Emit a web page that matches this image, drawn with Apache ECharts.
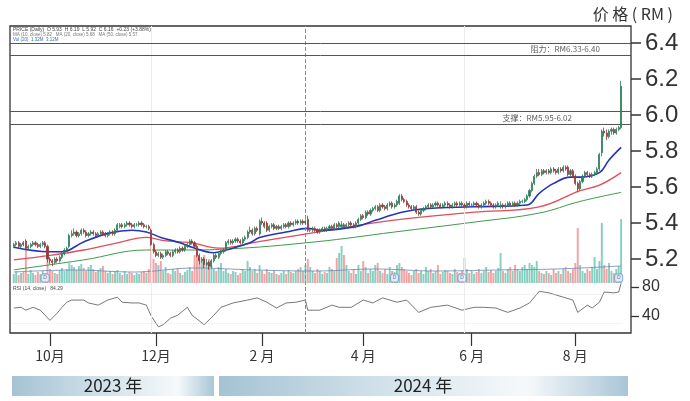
<!DOCTYPE html>
<html><head><meta charset="utf-8">
<script src="https://cdn.jsdelivr.net/npm/echarts@6/dist/echarts.min.js"></script>
<style>html,body{margin:0;padding:0;background:#fff}#c{width:690px;height:401px}</style>
</head><body><div id="c"></div>
<script>
// ---- categories: trading days (weekdays) 2023-09-11 .. 2024-08-28 ----
const dates = [];
(function(){ const d = new Date(Date.UTC(2023,8,11)); while (dates.length < 253) { const w = d.getUTCDay(); if (w !== 0 && w !== 6) dates.push(d.toISOString().slice(0,10)); d.setUTCDate(d.getUTCDate()+1); } })();

const opens = [5.27,5.28,5.29,5.27,5.29,5.30,5.26,5.27,5.28,5.29,
 5.28,5.27,5.28,5.29,5.27,5.20,5.19,5.18,5.20,5.19,
 5.21,5.23,5.25,5.27,5.33,5.34,5.35,5.33,5.34,5.36,
 5.35,5.33,5.34,5.35,5.34,5.33,5.34,5.35,5.34,5.33,
 5.34,5.35,5.34,5.36,5.38,5.39,5.38,5.39,5.40,5.39,
 5.38,5.39,5.39,5.40,5.39,5.38,5.38,5.36,5.28,5.24,
 5.22,5.23,5.21,5.22,5.24,5.23,5.22,5.24,5.25,5.24,
 5.26,5.25,5.27,5.28,5.30,5.29,5.27,5.22,5.19,5.20,
 5.17,5.18,5.16,5.19,5.22,5.21,5.23,5.24,5.25,5.29,
 5.30,5.29,5.30,5.31,5.30,5.29,5.31,5.32,5.35,5.36,
 5.34,5.37,5.34,5.41,5.40,5.40,5.36,5.38,5.39,5.37,
 5.38,5.37,5.38,5.39,5.38,5.40,5.39,5.40,5.41,5.40,
 5.41,5.40,5.42,5.36,5.36,5.37,5.36,5.35,5.36,5.37,
 5.36,5.37,5.38,5.37,5.39,5.38,5.38,5.39,5.38,5.39,
 5.40,5.39,5.38,5.40,5.42,5.44,5.43,5.46,5.45,5.47,
 5.48,5.49,5.47,5.50,5.49,5.48,5.50,5.51,5.49,5.50,
 5.51,5.55,5.53,5.52,5.50,5.49,5.48,5.49,5.46,5.45,
 5.47,5.48,5.49,5.50,5.49,5.50,5.51,5.50,5.49,5.50,
 5.51,5.50,5.49,5.50,5.51,5.50,5.51,5.50,5.49,5.51,
 5.50,5.50,5.51,5.50,5.49,5.50,5.51,5.52,5.51,5.50,
 5.49,5.50,5.49,5.50,5.49,5.50,5.51,5.50,5.51,5.50,
 5.51,5.52,5.52,5.53,5.55,5.58,5.62,5.66,5.68,5.67,
 5.69,5.68,5.69,5.68,5.70,5.69,5.68,5.70,5.69,5.71,
 5.71,5.67,5.69,5.66,5.62,5.59,5.63,5.66,5.68,5.67,
 5.66,5.67,5.68,5.70,5.79,5.91,5.90,5.88,5.91,5.92,
 5.90,5.92,5.93];
const closes = [5.28,5.29,5.27,5.28,5.28,5.26,5.27,5.28,5.29,5.28,
 5.27,5.28,5.29,5.27,5.20,5.19,5.18,5.20,5.19,5.21,
 5.23,5.25,5.26,5.33,5.34,5.35,5.33,5.34,5.36,5.35,
 5.33,5.34,5.35,5.34,5.33,5.34,5.35,5.34,5.33,5.34,
 5.35,5.34,5.36,5.39,5.39,5.38,5.39,5.40,5.39,5.38,
 5.39,5.39,5.40,5.39,5.38,5.38,5.37,5.28,5.24,5.22,
 5.23,5.21,5.22,5.24,5.23,5.22,5.24,5.25,5.24,5.26,
 5.25,5.27,5.28,5.30,5.29,5.27,5.22,5.19,5.20,5.17,
 5.18,5.16,5.19,5.22,5.21,5.23,5.24,5.25,5.29,5.30,
 5.29,5.30,5.31,5.30,5.29,5.31,5.32,5.35,5.36,5.34,
 5.37,5.36,5.41,5.40,5.38,5.36,5.38,5.39,5.37,5.38,
 5.37,5.38,5.39,5.38,5.40,5.39,5.40,5.41,5.40,5.41,
 5.40,5.41,5.36,5.36,5.37,5.36,5.35,5.36,5.37,5.36,
 5.37,5.38,5.37,5.39,5.38,5.40,5.39,5.38,5.39,5.40,
 5.39,5.38,5.40,5.42,5.44,5.43,5.46,5.45,5.47,5.48,
 5.49,5.47,5.50,5.49,5.48,5.50,5.51,5.49,5.50,5.52,
 5.55,5.53,5.52,5.50,5.49,5.48,5.49,5.46,5.45,5.47,
 5.48,5.49,5.50,5.49,5.50,5.51,5.50,5.49,5.50,5.51,
 5.50,5.49,5.50,5.51,5.50,5.51,5.50,5.49,5.51,5.50,
 5.50,5.51,5.50,5.49,5.50,5.51,5.52,5.51,5.50,5.49,
 5.50,5.51,5.50,5.49,5.50,5.51,5.50,5.51,5.50,5.51,
 5.52,5.52,5.53,5.55,5.58,5.62,5.66,5.68,5.67,5.69,
 5.68,5.69,5.68,5.70,5.69,5.68,5.70,5.69,5.71,5.70,
 5.67,5.69,5.66,5.62,5.59,5.63,5.66,5.68,5.67,5.66,
 5.67,5.68,5.70,5.78,5.91,5.90,5.88,5.91,5.92,5.90,
 5.92,5.93,6.16];
const highs = [5.29,5.30,5.30,5.29,5.30,5.31,5.28,5.29,5.30,5.30,
 5.29,5.29,5.30,5.30,5.28,5.21,5.20,5.21,5.21,5.22,
 5.24,5.26,5.27,5.34,5.36,5.37,5.36,5.35,5.37,5.37,
 5.36,5.35,5.36,5.36,5.35,5.35,5.36,5.36,5.35,5.35,
 5.36,5.36,5.37,5.40,5.40,5.40,5.40,5.41,5.41,5.40,
 5.40,5.40,5.41,5.41,5.40,5.39,5.39,5.37,5.29,5.25,
 5.24,5.24,5.23,5.25,5.25,5.24,5.25,5.26,5.26,5.27,
 5.27,5.28,5.29,5.31,5.31,5.30,5.28,5.23,5.21,5.21,
 5.20,5.19,5.20,5.23,5.23,5.24,5.25,5.26,5.30,5.31,
 5.31,5.31,5.32,5.32,5.31,5.32,5.33,5.36,5.38,5.37,
 5.38,5.38,5.42,5.43,5.41,5.41,5.39,5.40,5.40,5.39,
 5.39,5.39,5.40,5.40,5.41,5.41,5.41,5.42,5.42,5.42,
 5.42,5.42,5.44,5.37,5.38,5.38,5.37,5.37,5.38,5.38,
 5.38,5.39,5.39,5.40,5.40,5.41,5.41,5.40,5.40,5.41,
 5.41,5.40,5.41,5.43,5.45,5.45,5.47,5.47,5.48,5.49,
 5.50,5.50,5.51,5.51,5.50,5.51,5.52,5.52,5.51,5.53,
 5.56,5.56,5.54,5.53,5.51,5.50,5.50,5.50,5.47,5.48,
 5.49,5.50,5.51,5.51,5.51,5.52,5.52,5.51,5.51,5.52,
 5.52,5.51,5.51,5.52,5.52,5.52,5.52,5.51,5.52,5.52,
 5.51,5.52,5.52,5.51,5.51,5.52,5.53,5.53,5.52,5.51,
 5.51,5.52,5.52,5.51,5.51,5.52,5.52,5.52,5.52,5.52,
 5.53,5.53,5.54,5.56,5.59,5.63,5.67,5.70,5.70,5.70,
 5.70,5.70,5.70,5.71,5.71,5.70,5.71,5.71,5.72,5.72,
 5.72,5.70,5.70,5.67,5.63,5.64,5.67,5.69,5.69,5.68,
 5.68,5.69,5.71,5.79,5.92,5.93,5.92,5.92,5.93,5.93,
 5.93,5.94,6.19];
const lows = [5.26,5.27,5.26,5.26,5.27,5.25,5.25,5.26,5.27,5.27,
 5.26,5.26,5.27,5.26,5.18,5.17,5.16,5.17,5.18,5.18,
 5.20,5.22,5.24,5.26,5.32,5.33,5.32,5.32,5.33,5.34,
 5.32,5.32,5.33,5.33,5.32,5.32,5.33,5.33,5.32,5.32,
 5.33,5.33,5.33,5.35,5.37,5.37,5.37,5.38,5.38,5.37,
 5.37,5.38,5.38,5.38,5.37,5.37,5.36,5.27,5.23,5.21,
 5.21,5.20,5.20,5.21,5.22,5.21,5.21,5.23,5.23,5.23,
 5.24,5.24,5.26,5.27,5.28,5.26,5.21,5.17,5.18,5.15,
 5.16,5.14,5.15,5.18,5.20,5.20,5.22,5.23,5.24,5.28,
 5.28,5.28,5.29,5.29,5.28,5.28,5.30,5.31,5.34,5.33,
 5.33,5.35,5.33,5.39,5.37,5.35,5.35,5.37,5.36,5.36,
 5.36,5.36,5.37,5.37,5.37,5.38,5.38,5.39,5.39,5.39,
 5.39,5.39,5.35,5.35,5.35,5.35,5.34,5.34,5.35,5.35,
 5.35,5.36,5.36,5.36,5.37,5.37,5.37,5.37,5.37,5.38,
 5.38,5.37,5.37,5.39,5.41,5.42,5.42,5.44,5.44,5.46,
 5.47,5.46,5.46,5.48,5.47,5.47,5.49,5.48,5.48,5.49,
 5.50,5.52,5.51,5.49,5.48,5.47,5.47,5.45,5.44,5.44,
 5.46,5.47,5.48,5.48,5.48,5.49,5.49,5.48,5.48,5.49,
 5.49,5.48,5.48,5.49,5.49,5.49,5.49,5.48,5.48,5.49,
 5.49,5.49,5.49,5.48,5.48,5.49,5.50,5.50,5.49,5.48,
 5.48,5.49,5.48,5.48,5.48,5.49,5.49,5.49,5.49,5.49,
 5.50,5.51,5.51,5.52,5.54,5.57,5.61,5.65,5.66,5.66,
 5.67,5.67,5.67,5.67,5.68,5.67,5.67,5.68,5.68,5.69,
 5.66,5.66,5.65,5.61,5.57,5.58,5.62,5.65,5.66,5.65,
 5.65,5.66,5.67,5.69,5.77,5.88,5.86,5.87,5.89,5.89,
 5.89,5.91,5.92];
const vols = [9,12,8,10,11,36,9,13,10,8,
 11,9,12,10,34,14,12,10,9,13,
 15,12,14,20,18,16,13,17,19,15,
 12,16,18,14,11,13,15,17,12,10,
 12,9,11,13,10,8,12,9,11,10,
 8,10,9,11,12,10,14,36,24,20,
 18,22,12,16,10,9,14,12,15,10,
 8,11,13,16,12,28,30,26,22,28,
 20,24,18,14,12,16,20,12,14,10,
 9,12,11,8,10,14,12,22,16,12,
 14,10,18,12,9,14,11,10,12,9,
 8,10,12,9,13,11,10,12,14,16,
 12,18,24,16,12,10,14,12,9,11,
 10,16,14,12,25,30,37,28,18,12,
 10,14,9,18,12,22,16,10,14,12,
 18,20,12,10,14,9,16,12,11,18,
 20,16,14,12,10,8,12,14,10,12,
 9,16,12,14,10,12,18,9,11,13,
 12,10,9,14,11,10,12,25,14,10,
 12,9,11,14,10,12,16,11,13,10,
 12,15,30,12,10,14,16,12,18,14,
 12,16,18,14,20,18,16,22,12,10,
 9,12,10,8,14,10,12,9,14,16,
 12,10,14,20,55,18,12,10,14,12,
 16,26,14,22,60,18,14,20,12,10,
 14,17,64];
// moving averages / indicators read at sample days: [dayIndex, value]
const maBlue = [[0,5.265],[15,5.24],[20,5.24],[29,5.295],[40,5.345],[49,5.36],[55,5.35],[61,5.32],[69,5.29],[74,5.265],[83,5.235],[88,5.25],[98,5.29],[102,5.32],[113,5.35],[122,5.37],[127,5.36],[142,5.38],[150,5.415],[161,5.46],[171,5.48],[191,5.49],[213,5.50],[218,5.565],[224,5.62],[231,5.655],[235,5.655],[243,5.68],[247,5.75],[252,5.82]];
const maRed = [[0,5.195],[15,5.22],[29,5.25],[43,5.29],[55,5.32],[61,5.305],[69,5.295],[74,5.29],[85,5.26],[101,5.295],[124,5.345],[157,5.415],[191,5.46],[218,5.49],[235,5.58],[243,5.61],[252,5.68]];
const maGreen = [[0,5.14],[29,5.195],[55,5.25],[70,5.25],[88,5.255],[125,5.295],[158,5.35],[191,5.405],[218,5.455],[235,5.52],[252,5.57]];
const volMA = [[0,11],[25,13],[50,11],[75,15],[100,13],[125,12],[150,14],[175,12],[200,13],[225,14],[252,17]];
const rsiPts = [[0,51],[3,52],[5,48],[8,52],[11,48],[15,34],[18,44],[20,52],[22,59],[24,62],[29,62],[31,58],[35,55],[39,62],[43,66],[45,59],[49,58],[52,58],[55,55],[57,40],[60,25],[62,28],[65,37],[68,41],[72,52],[74,41],[79,28],[83,41],[86,52],[91,58],[97,62],[101,65],[105,59],[109,51],[113,58],[117,59],[121,62],[122,48],[127,48],[132,55],[135,52],[140,52],[145,62],[149,58],[153,65],[159,59],[163,62],[168,45],[173,52],[180,55],[186,48],[191,52],[195,52],[200,51],[205,45],[210,51],[214,58],[218,74],[222,72],[228,66],[232,62],[234,45],[238,55],[240,51],[243,59],[245,73],[249,72],[251,73],[252,85]];
const markerDays = [13,158,186,251];
const priceTicks = [5.2,5.4,5.6,5.8,6.0,6.2,6.4];
const rsiTicks = [40,80];
const levels = [6.40,6.33,6.02,5.95];
const levelNotes = [{name:'阻力：RM6.33-6.40', x:0.894, y:6.365},{name:'支撑：RM5.95-6.02', x:0.849, y:5.985}];
const eventDay = 121, gridDays = [57,187];

// ---- layout ----
const L = 12.6, R = 67.7;
const pTop = 25, pH = 270, pMin = 5.0, pMax = 6.5;
const fTop = 26, fBottom = 333;
const ppu = pH/(pMax-pMin);
const oMax = pMax - (fTop-pTop)/ppu, oMin = oMax - (fBottom-fTop)/ppu;
const axOff = (690-59) - (690-R);

const isTick = (i) => { if (i === 0) return false; const m = +dates[i].slice(5,7), pm = +dates[i-1].slice(5,7); return m !== pm && m % 2 === 0; };
const monthLabel = (v) => { const m = +v.slice(5,7); return m >= 10 ? m + '月' : m + ' 月'; };

const candle = opens.map((o,i)=>[o, closes[i], lows[i], highs[i]]);
const volData = vols.map((v,i)=>({value:v, itemStyle:{color: closes[i] >= opens[i] ? '#86cfc1' : '#f2a3a6'}}));
const FONT = 'Liberation Sans, Arial, sans-serif';
const CJK = '"Noto Sans CJK SC", sans-serif';

const catAxis = (gi, extra) => Object.assign({type:'category', gridIndex:gi, data:dates, boundaryGap:true, show:false}, extra||{});

const chart = echarts.init(document.getElementById('c'));
chart.setOption({
  animation:false,
  backgroundColor:'#fff',
  grid:[
    {left:L, right:R, top:pTop, height:pH},
    {left:L, right:R, top:200, height:83},
    {left:L, right:R, top:272.5, height:72.5},
    {left:L, right:R, top:fTop, bottom:401-fBottom},
    {left:10, right:59, top:fTop, bottom:401-fBottom, show:true, borderColor:'#333', borderWidth:1.3, backgroundColor:'transparent'}
  ],
  xAxis:[
    catAxis(0), catAxis(1), catAxis(2),
    catAxis(3, {show:true, axisLine:{show:false},
      axisTick:{show:true, interval:isTick, length:13, alignWithLabel:true, lineStyle:{color:'#333', width:1.2}},
      axisLabel:{interval:isTick, formatter:monthLabel, margin:16, fontSize:14, color:'#333', fontFamily:CJK}}),
    {type:'value', gridIndex:4, min:0, max:1, show:false}
  ],
  yAxis:[
    {type:'value', gridIndex:0, position:'right', min:pMin, max:pMax, interval:0.2, offset:axOff,
     axisLine:{show:false}, splitLine:{show:false},
     axisTick:{show:true, length:10, customValues:priceTicks, lineStyle:{color:'#333', width:1.5}},
     axisLabel:{customValues:priceTicks, formatter:v=>v.toFixed(1), fontSize:24, margin:14, color:'#333', fontFamily:FONT}},
    {type:'value', gridIndex:1, min:0, max:83, show:false},
    {type:'value', gridIndex:2, position:'right', min:0, max:100, interval:40, offset:axOff,
     axisLine:{show:false}, splitLine:{show:false},
     axisTick:{show:true, length:8, customValues:rsiTicks, lineStyle:{color:'#333', width:1.3}},
     axisLabel:{customValues:rsiTicks, fontSize:16, margin:11, color:'#333', fontFamily:FONT}},
    {type:'value', gridIndex:3, min:0, max:1, show:false},
    {type:'value', gridIndex:4, min:oMin, max:oMax, show:false}
  ],
  series:[
    {type:'bar', name:'vol', xAxisIndex:1, yAxisIndex:1, data:volData, barWidth:'80%', z:1},
    {type:'line', xAxisIndex:1, yAxisIndex:1, data:volMA, symbol:'none', smooth:0.4, lineStyle:{color:'#6a86b4', width:0.8}, z:2},
    {type:'scatter', xAxisIndex:1, yAxisIndex:1, data:markerDays.map(d=>[d,5]), symbol:'roundRect', symbolSize:8,
     itemStyle:{color:'#eef2fb', borderColor:'#5a78c8', borderWidth:0.8},
     label:{show:true, formatter:'D', fontSize:5, color:'#3a5ab0', position:'inside'}, z:5},
    {type:'line', xAxisIndex:0, yAxisIndex:0, data:maGreen, symbol:'none', smooth:0.4, lineStyle:{color:'#3f9a4c', width:1}, z:3},
    {type:'line', xAxisIndex:0, yAxisIndex:0, data:maRed, symbol:'none', smooth:0.4, lineStyle:{color:'#e14d58', width:1.3}, z:3},
    {type:'line', xAxisIndex:0, yAxisIndex:0, data:maBlue, symbol:'none', smooth:0.4, lineStyle:{color:'#2435b8', width:1.6}, z:4},
    {type:'candlestick', xAxisIndex:0, yAxisIndex:0, data:candle, barWidth:1.6, z:6,
     itemStyle:{color:'#2e7d5b', color0:'#963838', borderColor:'#2e7d5b', borderColor0:'#963838', borderWidth:0.8}},
    {type:'line', xAxisIndex:2, yAxisIndex:2, data:rsiPts, symbol:'none', lineStyle:{color:'#555', width:0.8}, z:3,
     markLine:{silent:true, symbol:['none','none'], label:{show:false},
       lineStyle:{color:'#e2e2e2', type:'dotted', width:0.8}, data:[{yAxis:30},{yAxis:70}]}},
    {type:'line', xAxisIndex:3, yAxisIndex:3, data:dates.map(()=>null), symbol:'none',
     markLine:{silent:true, symbol:['none','none'], label:{show:false},
       data:[{xAxis:dates[eventDay], lineStyle:{type:'dashed', color:'#8a8a8a', width:1}},
             {xAxis:dates[gridDays[0]], lineStyle:{type:'solid', color:'#ececec', width:1}},
             {xAxis:dates[gridDays[1]], lineStyle:{type:'solid', color:'#ececec', width:1}}]}},
    {type:'scatter', xAxisIndex:4, yAxisIndex:4, symbolSize:0,
     data:levelNotes.map(n=>({name:n.name, value:[n.x, n.y]})),
     label:{show:true, position:'inside', formatter:p=>p.name, fontSize:8, color:'#333', fontFamily:CJK},
     markLine:{silent:true, symbol:['none','none'], label:{show:false},
       lineStyle:{color:'#555', type:'solid', width:1}, data:levels.map(v=>({yAxis:v}))}, z:7}
  ],
  graphic:[
    {type:'text', right:17, top:6, style:{text:'价 格 ( RM )', font:'16px "Noto Sans CJK SC"', fill:'#333'}},
    {type:'text', left:13, top:27, style:{text:'PRICE (Daily)  O 5.93  H 6.19  L 5.92  C 6.16  +0.23 (+3.88%)', font:'5px Liberation Sans', fill:'#444'}},
    {type:'text', left:13, top:32, style:{text:'MA (10, close) 5.82   MA (20, close) 5.68   MA (50, close) 5.57', font:'4.5px Liberation Sans', fill:'#777'}},
    {type:'text', left:13, top:37, style:{text:'Vol (20)  1.32M  3.12M', font:'4.5px Liberation Sans', fill:'#3a6fb0'}},
    {type:'text', left:13, top:286, style:{text:'RSI (14, close)   84.29', font:'5px Liberation Sans', fill:'#444'}},
    {type:'rect', shape:{x:12, y:376, width:202, height:20},
     style:{fill:new echarts.graphic.LinearGradient(0,0,1,0,[{offset:0,color:'#a5c3d3'},{offset:0.55,color:'#dbe8ee'},{offset:0.82,color:'#f6f9fb'},{offset:1,color:'#a9c6d6'}])}},
    {type:'rect', shape:{x:219, y:376, width:409, height:20},
     style:{fill:new echarts.graphic.LinearGradient(0,0,1,0,[{offset:0,color:'#a5c3d3'},{offset:0.5,color:'#dde9ef'},{offset:0.75,color:'#f6f9fb'},{offset:1,color:'#a9c6d6'}])}},
    {type:'text', x:113, y:386, style:{text:'2023 年', font:'17px "Noto Sans CJK SC"', fill:'#222', align:'center', verticalAlign:'middle'}},
    {type:'text', x:423, y:386, style:{text:'2024 年', font:'17px "Noto Sans CJK SC"', fill:'#222', align:'center', verticalAlign:'middle'}}
  ]
});
</script></body></html>
